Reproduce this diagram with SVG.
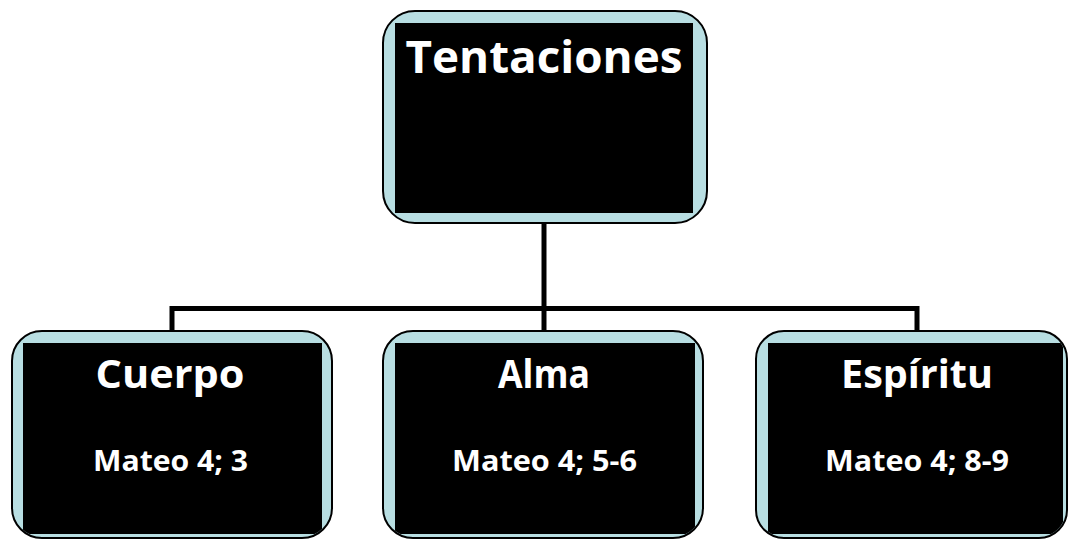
<svg xmlns="http://www.w3.org/2000/svg" width="1068" height="539" viewBox="0 0 1068 539">
<style>
.outer{fill:#b8dee2;stroke:#000;stroke-width:2}
.inner{fill:#000}
.t{font-family:"Open Sans","DejaVu Sans",sans-serif;font-weight:bold;fill:#fff;text-anchor:middle}
.h1{font-size:44px}
.h2{font-size:39px}
.sub{font-size:29px}
.conn{fill:none;stroke:#000;stroke-width:5}
</style>
<defs>
<clipPath id="c1"><rect x="383" y="11" width="324" height="212" rx="32"/></clipPath>
<clipPath id="c2"><rect x="13" y="332" width="318" height="205" rx="29"/></clipPath>
<clipPath id="c3"><rect x="384" y="332" width="318" height="205" rx="29"/></clipPath>
<clipPath id="c4"><rect x="757" y="332" width="309" height="205" rx="27"/></clipPath>
</defs>
<rect width="1068" height="539" fill="#fff"/>
<g id="connectors">
<path class="conn" d="M172 331 V308.5 H917 V331"/>
<path class="conn" d="M544 223 V308.5 V331"/>
</g>
<g id="tentaciones">
<rect class="outer" x="383" y="11" width="324" height="212" rx="32"/>
<rect class="inner" x="395" y="23" width="298" height="190" clip-path="url(#c1)"/>
<text class="t h1" x="544" y="73" textLength="277" lengthAdjust="spacingAndGlyphs">Tentaciones</text>
</g>
<g id="cuerpo">
<rect class="outer" x="12" y="331" width="320" height="207" rx="30"/>
<rect class="inner" x="23" y="343" width="299" height="191" clip-path="url(#c2)"/>
<text class="t h2" x="170" y="388" textLength="149" lengthAdjust="spacingAndGlyphs">Cuerpo</text>
<text class="t sub" x="170.5" y="471" textLength="155" lengthAdjust="spacingAndGlyphs">Mateo 4; 3</text>
</g>
<g id="alma">
<rect class="outer" x="383" y="331" width="320" height="207" rx="30"/>
<rect class="inner" x="395" y="343" width="300" height="191" clip-path="url(#c3)"/>
<text class="t h2" x="544" y="388" textLength="92" lengthAdjust="spacingAndGlyphs">Alma</text>
<text class="t sub" x="544.5" y="471" textLength="185" lengthAdjust="spacingAndGlyphs">Mateo 4; 5-6</text>
</g>
<g id="espiritu">
<rect class="outer" x="756" y="331" width="311" height="207" rx="28"/>
<rect class="inner" x="768" y="343" width="295" height="191" clip-path="url(#c4)"/>
<text class="t h2" x="917" y="388" textLength="152" lengthAdjust="spacingAndGlyphs">Espíritu</text>
<text class="t sub" x="917" y="471" textLength="184" lengthAdjust="spacingAndGlyphs">Mateo 4; 8-9</text>
</g>
</svg>
